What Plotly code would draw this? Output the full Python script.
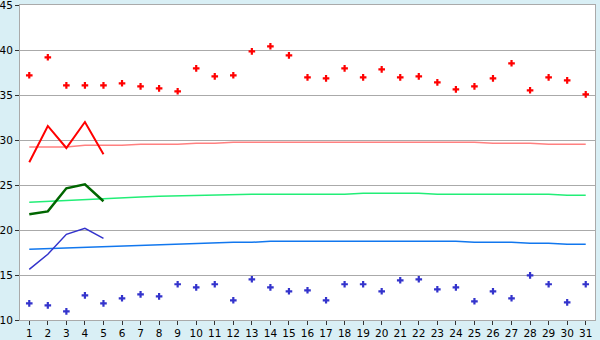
import plotly.graph_objects as go

days = list(range(1, 32))

high_pts = [37.19, 39.19, 36.07, 36.07, 36.07, 36.3, 35.96, 35.74, 35.41, 37.96,
            37.07, 37.19, 39.85, 40.41, 39.4, 36.96, 36.85, 37.96, 36.96, 37.85,
            36.96, 37.07, 36.4, 35.63, 35.96, 36.85, 38.52, 35.52, 36.96, 36.63, 35.07]
low_pts = [11.85, 11.63, 10.96, 12.74, 11.85, 12.41, 12.85, 12.63, 13.97, 13.63,
           13.97, 12.19, 14.52, 13.63, 13.19, 13.3, 12.19, 13.97, 13.97, 13.19,
           14.41, 14.52, 13.41, 13.63, 12.08, 13.19, 12.41, 14.96, 13.97, 11.96, 13.97]

line_days = [1, 2, 3, 4, 5]
high_line = [27.52, 31.56, 29.11, 32.0, 28.41]
mean_line = [21.74, 22.07, 24.63, 25.07, 23.19]
low_line = [15.63, 17.3, 19.52, 20.19, 19.07]

high_norm = [29.22, 29.22, 29.22, 29.41, 29.41, 29.41, 29.52, 29.52, 29.52, 29.63,
             29.63, 29.74, 29.74, 29.74, 29.74, 29.74, 29.74, 29.74, 29.74, 29.74,
             29.74, 29.74, 29.74, 29.74, 29.74, 29.63, 29.63, 29.63, 29.52, 29.52, 29.52]
mean_norm = [23.08, 23.19, 23.3, 23.41, 23.52, 23.6, 23.68, 23.74, 23.8, 23.85,
             23.85, 23.96, 23.96, 23.96, 23.96, 23.96, 23.96, 23.96, 24.07, 24.07,
             24.07, 24.07, 23.96, 23.96, 23.96, 23.96, 23.96, 23.96, 23.96, 23.85, 23.85]
low_norm = [17.85, 17.92, 17.98, 18.05, 18.12, 18.2, 18.28, 18.36, 18.44, 18.52,
            18.52, 18.63, 18.63, 18.74, 18.74, 18.74, 18.74, 18.74, 18.74, 18.74,
            18.74, 18.74, 18.74, 18.74, 18.63, 18.63, 18.63, 18.52, 18.52, 18.41, 18.41]

y_ticks = [10, 15, 20, 25, 30, 35, 40, 45]

fig = go.Figure()
fig.add_trace(go.Scatter(x=days, y=high_norm, mode="lines", line=dict(color="#ff8080", width=1.5)))
fig.add_trace(go.Scatter(x=days, y=mean_norm, mode="lines", line=dict(color="#22ee77", width=1.5)))
fig.add_trace(go.Scatter(x=days, y=low_norm, mode="lines", line=dict(color="#1177ee", width=1.5)))
fig.add_trace(go.Scatter(x=line_days, y=high_line, mode="lines", line=dict(color="#ff0000", width=2)))
fig.add_trace(go.Scatter(x=line_days, y=mean_line, mode="lines", line=dict(color="#006600", width=2.5)))
fig.add_trace(go.Scatter(x=line_days, y=low_line, mode="lines", line=dict(color="#3333cc", width=1.5)))
fig.add_trace(go.Scatter(x=days, y=high_pts, mode="markers",
                         marker=dict(symbol="cross", size=5.5, color="#ff0000", line=dict(width=0))))
fig.add_trace(go.Scatter(x=days, y=low_pts, mode="markers",
                         marker=dict(symbol="cross", size=5.5, color="#3333cc", line=dict(width=0))))

fig.update_layout(
    width=600, height=340,
    margin=dict(l=20, r=5, t=5, b=20),
    paper_bgcolor="#d9eff5",
    plot_bgcolor="#ffffff",
    showlegend=False,
    font=dict(family="DejaVu Sans", size=10.5, color="#000000"),
)
fig.update_xaxes(range=[0.5, 31.5], tickvals=days, ticktext=[str(d) for d in days],
                 ticks="outside", ticklen=4, tickcolor="#333333", showgrid=False, automargin=False,
                 ticklabelstandoff=-1,
                 showline=True, linecolor="#aaaaaa", linewidth=1, mirror=True, zeroline=False)
fig.update_yaxes(range=[10, 45], tickvals=y_ticks, ticks="outside", ticklen=4, tickcolor="#333333",
                 ticklabeloverflow="allow", automargin=False,
                 showgrid=True, gridcolor="#aaaaaa", gridwidth=1,
                 showline=True, linecolor="#aaaaaa", linewidth=1, mirror=True, zeroline=False)

fig.write_html("out.html")
